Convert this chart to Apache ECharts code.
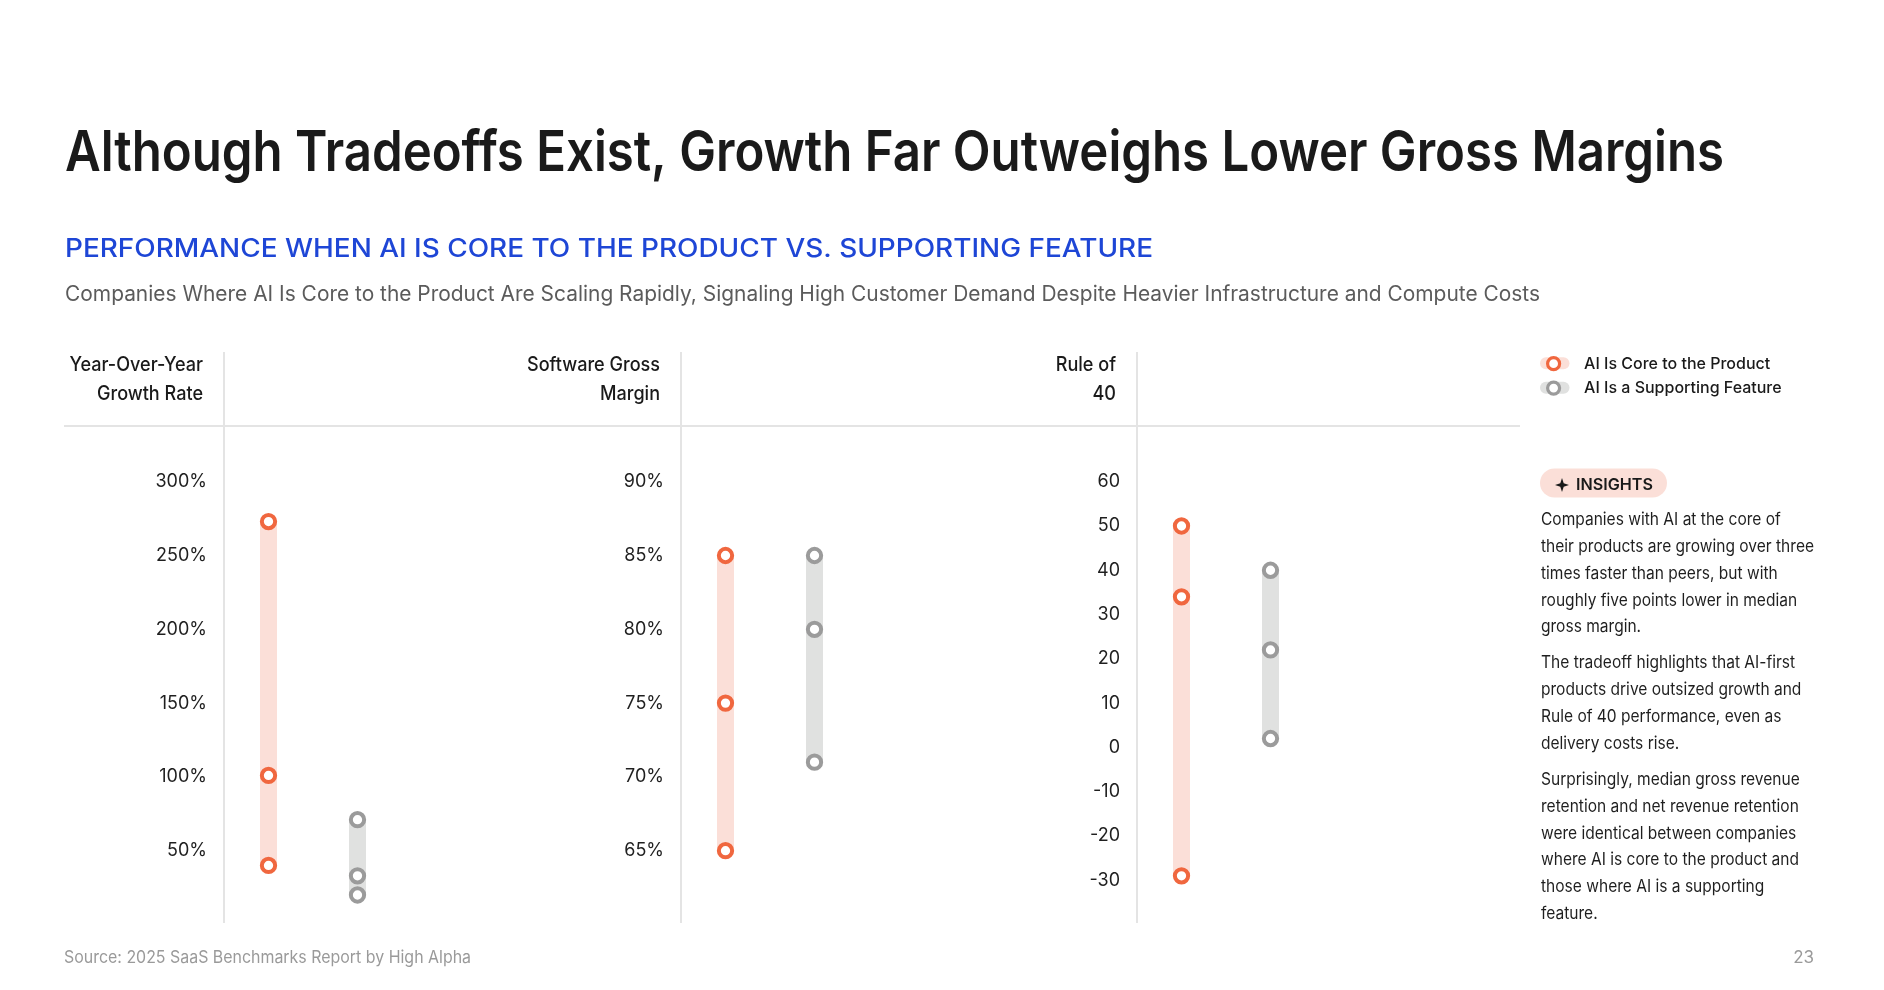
<!DOCTYPE html>
<html>
<head>
<meta charset="utf-8">
<script src="https://cdn.jsdelivr.net/npm/echarts@6/dist/echarts.min.js"></script>
<style>
  html, body { margin: 0; padding: 0; background: #ffffff; }
  #chart { width: 1884px; height: 990px; }
</style>
</head>
<body>
<div id="chart"></div>
<script>
// ---------------- data ----------------
const seriesNames = ['AI Is Core to the Product', 'AI Is a Supporting Feature'];
const metricTitles = [['Year-Over-Year', 'Growth Rate'], ['Software Gross', 'Margin'], ['Rule of', '40']];

const growthCore = [40, 101, 273];
const growthSupport = [20, 33, 71];
const marginCore = [65, 75, 85];
const marginSupport = [71, 80, 85];
const ruleCore = [-29, 34, 50];
const ruleSupport = [2, 22, 40];

const growthTicks = [0, 50, 100, 150, 200, 250, 300];
const marginTicks = [60, 65, 70, 75, 80, 85, 90];
const ruleTicks = [-40, -30, -20, -10, 0, 10, 20, 30, 40, 50, 60];
const tickSuffix = ['%', '%', ''];

const titleText = 'Although Tradeoffs Exist, Growth Far Outweighs Lower Gross Margins';
const subtitleText = 'PERFORMANCE WHEN AI IS CORE TO THE PRODUCT VS. SUPPORTING FEATURE';
const descText = 'Companies Where AI Is Core to the Product Are Scaling Rapidly, Signaling High Customer Demand Despite Heavier Infrastructure and Compute Costs';
const sourceText = 'Source: 2025 SaaS Benchmarks Report by High Alpha';
const pageText = '23';
const insightLabel = 'INSIGHTS';
const insightParagraphs = [
  ['Companies with AI at the core of', 'their products are growing over three', 'times faster than peers, but with', 'roughly five points lower in median', 'gross margin.'],
  ['The tradeoff highlights that AI-first', 'products drive outsized growth and', 'Rule of 40 performance, even as', 'delivery costs rise.'],
  ['Surprisingly, median gross revenue', 'retention and net revenue retention', 'were identical between companies', 'where AI is core to the product and', 'those where AI is a supporting', 'feature.']
];

// ---------------- styles / layout ----------------
const FONT = 'Inter';
const ringColors = ['#F0673F', '#9B9B9B'];
const barColors = ['#FBDFD8', '#E0E1E0'];
const ruleColor = '#E4E4E4';
const panelLeft = [224, 681, 1137];
const gridTop = 481.7, gridHeight = 442.8, gridWidth = 178;

const mctx = document.createElement('canvas').getContext('2d');
function fit(text, font, target) { mctx.font = font; return target / mctx.measureText(text).width; }

const panels = [
  { core: growthCore, support: growthSupport, ticks: growthTicks },
  { core: marginCore, support: marginSupport, ticks: marginTicks },
  { core: ruleCore, support: ruleSupport, ticks: ruleTicks }
];

const grids = [], xAxes = [], yAxes = [], series = [];

function rangeItem(params, api) {
  const x = api.value(0);
  const lo = api.coord([x, api.value(1)]);
  const hi = api.coord([x, api.value(2)]);
  const w = 17;
  return {
    type: 'rect',
    shape: { x: lo[0] - w / 2, y: hi[1], width: w, height: lo[1] - hi[1], r: 0 },
    style: { fill: api.visual('color') }
  };
}

panels.forEach((p, i) => {
  grids.push({ left: panelLeft[i], top: gridTop, width: gridWidth, height: gridHeight });
  xAxes.push({ type: 'category', gridIndex: i, data: seriesNames, show: false });
  yAxes.push({
    type: 'value', gridIndex: i,
    min: p.ticks[0], max: p.ticks[p.ticks.length - 1], interval: p.ticks[1] - p.ticks[0],
    axisLine: { show: false }, axisTick: { show: false }, splitLine: { show: false },
    axisLabel: {
      showMinLabel: false, margin: 17, color: '#1f1f1f', fontSize: 18, fontFamily: FONT,
      formatter: v => v + tickSuffix[i]
    }
  });
  [p.core, p.support].forEach((vals, k) => {
    series.push({
      type: 'custom', name: 'range' + i + k, xAxisIndex: i, yAxisIndex: i, silent: true,
      itemStyle: { color: barColors[k] },
      renderItem: rangeItem,
      data: [[k, Math.min(...vals), Math.max(...vals)]],
      z: 1
    });
  });
  [p.core, p.support].forEach((vals, k) => {
    series.push({
      type: 'scatter', name: seriesNames[k], xAxisIndex: i, yAxisIndex: i, silent: true,
      symbol: 'circle', symbolSize: 13.3,
      itemStyle: { color: '#ffffff', borderColor: ringColors[k], borderWidth: 4, opacity: 1 },
      data: vals.map(v => [seriesNames[k], v]),
      z: 3
    });
  });
});

// ---------------- graphic (text + rules) ----------------
const graphics = [];
const titleFont = '600 56px ' + FONT;
graphics.push({ type: 'text', x: 65, y: 154, scaleX: fit(titleText, titleFont, 1659),
  style: { text: titleText, font: titleFont, fill: '#1a1a1a', verticalAlign: 'middle' } });
const subFont = '500 25px ' + FONT;
graphics.push({ type: 'text', x: 65, y: 249, scaleX: fit(subtitleText, subFont, 1088),
  style: { text: subtitleText, font: subFont, fill: '#1E46D6', verticalAlign: 'middle' } });
const descFont = '400 21px ' + FONT;
graphics.push({ type: 'text', x: 65, y: 295, scaleX: fit(descText, descFont, 1475),
  style: { text: descText, font: descFont, fill: '#5b5b5b', verticalAlign: 'middle' } });

// header rules
graphics.push({ type: 'line', shape: { x1: 64, y1: 426, x2: 1520, y2: 426 }, style: { stroke: ruleColor, lineWidth: 2 } });
panelLeft.forEach(x => {
  graphics.push({ type: 'line', shape: { x1: x, y1: 352, x2: x, y2: 923 }, style: { stroke: ruleColor, lineWidth: 2 } });
});
// header labels
const headFont = '500 20px ' + FONT;
const headScale = fit('Software Gross', headFont, 133);
metricTitles.forEach((lines, i) => {
  lines.forEach((t, j) => {
    graphics.push({ type: 'text', x: panelLeft[i] - 21, y: 365 + j * 29, scaleX: headScale,
      style: { text: t, font: headFont, fill: '#1a1a1a', align: 'right', verticalAlign: 'middle' } });
  });
});

// legend pills
graphics.push({ type: 'rect', z: 0, shape: { x: 1540, y: 357.3, width: 29.5, height: 12, r: 6 }, style: { fill: barColors[0] } });
graphics.push({ type: 'rect', z: 0, shape: { x: 1540, y: 381.7, width: 29.5, height: 12, r: 6 }, style: { fill: barColors[1] } });

// insights badge
graphics.push({ type: 'rect', shape: { x: 1540, y: 468.5, width: 127, height: 29, r: 14.5 }, style: { fill: '#FBDFD8' } });
const sc = 1562, sy = 485, R = 7, r = 1.7;
graphics.push({ type: 'polygon', shape: { points: [[sc, sy - R], [sc + r, sy - r], [sc + R, sy], [sc + r, sy + r], [sc, sy + R], [sc - r, sy + r], [sc - R, sy], [sc - r, sy - r]] }, style: { fill: '#1a1a1a' } });
const badgeFont = '600 16px ' + FONT;
graphics.push({ type: 'text', x: 1576, y: 485, scaleX: fit(insightLabel, badgeFont, 77),
  style: { text: insightLabel, font: badgeFont, fill: '#1a1a1a', verticalAlign: 'middle' } });

// insight paragraphs
const insFont = '400 17px ' + FONT;
const insScale = fit('their products are growing over three', insFont, 273);
const paraTops = [520.3, 663.3, 780];
insightParagraphs.forEach((lines, pi) => {
  lines.forEach((t, li) => {
    graphics.push({ type: 'text', x: 1541, y: paraTops[pi] + li * 26.7, scaleX: insScale,
      style: { text: t, font: insFont, fill: '#1f1f1f', verticalAlign: 'middle' } });
  });
});

// footer
const footFont = '400 17px ' + FONT;
graphics.push({ type: 'text', x: 64, y: 958, scaleX: fit(sourceText, footFont, 407),
  style: { text: sourceText, font: footFont, fill: '#9a9a9a', verticalAlign: 'middle' } });
graphics.push({ type: 'text', x: 1814, y: 958,
  style: { text: pageText, font: footFont, fill: '#9a9a9a', align: 'right', verticalAlign: 'middle' } });

// ---------------- chart ----------------
const chart = echarts.init(document.getElementById('chart'));
chart.setOption({
  backgroundColor: '#ffffff',
  animation: false,
  grid: grids,
  xAxis: xAxes,
  yAxis: yAxes,
  legend: {
    data: seriesNames.map((n, k) => ({ name: n, itemStyle: { color: '#ffffff', borderColor: ringColors[k], borderWidth: 3.2 } })),
    orient: 'vertical', left: 1541, top: 346.5, itemWidth: 29, itemHeight: 12, itemGap: 0,
    selectedMode: false, z: 5,
    textStyle: { fontFamily: FONT, fontWeight: 500, fontSize: 16, color: '#1a1a1a', lineHeight: 24.4, padding: [0, 0, 0, 11] }
  },
  graphic: graphics,
  series: series
});
</script>
</body>
</html>
